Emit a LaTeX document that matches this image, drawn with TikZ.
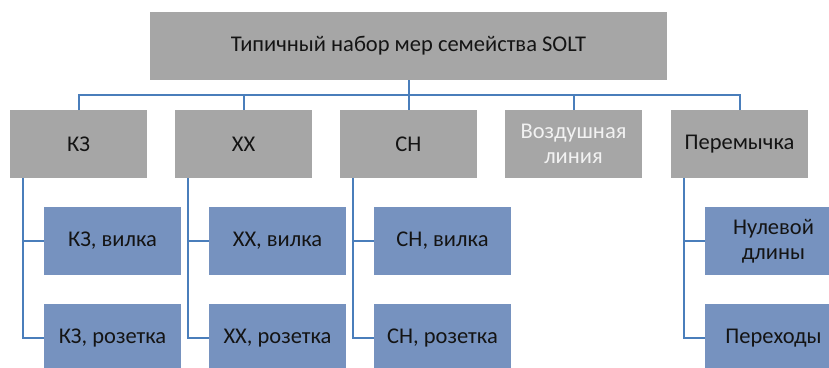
\documentclass[tikz,border=0pt]{standalone}
\usepackage{fontspec}
\setmainfont{Carlito}
\definecolor{boxgray}{HTML}{A6A6A6}
\definecolor{boxblue}{HTML}{7692BF}
\definecolor{linkblue}{HTML}{4A7EBB}
\definecolor{txtdark}{HTML}{141414}
\begin{document}
\begin{tikzpicture}[x=1pt,y=-1pt,
  every node/.style={inner sep=0pt,outer sep=0pt,align=center,
    font=\fontsize{22.5}{25}\selectfont,text=txtdark},
  topbox/.style={fill=boxgray,minimum width=517pt,minimum height=68pt},
  grbox/.style={fill=boxgray,minimum width=137pt,minimum height=68pt},
  blbox/.style={fill=boxblue,minimum width=137pt,minimum height=68pt},
  link/.style={draw=linkblue,line width=2pt}]
\useasboundingbox (0,0) rectangle (829,367);
\begin{scope}
\clip (0,0) rectangle (829,367);
\node[topbox] (top) at (408.5,46) {Типичный набор мер семейства SOLT};
\node[grbox] (kz) at (78.5,144) {КЗ};
\node[grbox] (xx) at (243.5,144) {ХХ};
\node[grbox] (ch) at (408.5,144) {СН};
\node[grbox,text=white!95!black] (vl) at (573.5,144) {Воздушная\\линия};
\node[grbox] (pm) at (739.5,144) {Перемычка};
\node[blbox] (kzv) at (112.5,241) {КЗ, вилка};
\node[blbox] (kzr) at (112.5,338) {КЗ, розетка};
\node[blbox] (xxv) at (277.5,241) {ХХ, вилка};
\node[blbox] (xxr) at (277.5,338) {ХХ, розетка};
\node[blbox] (chv) at (442.5,241) {СН, вилка};
\node[blbox] (chr) at (442.5,338) {СН, розетка};
\node[blbox] (pmn) at (773.5,241) {Нулевой\\длины};
\node[blbox] (pmp) at (773.5,338) {Переходы};
\coordinate (bus) at (0,95);
\draw[link] (top.south) -- (top.south |- bus);
\draw[link] (kz.north) |- (bus -| xx.north) -- (xx.north);
\draw[link] (bus -| xx.north) -- (bus -| ch.north) -- (ch.north);
\draw[link] (bus -| ch.north) -| (vl.north);
\draw[link] (bus -| vl.north) -| (pm.north);
\foreach \p/\a/\b in {kz/kzv/kzr, xx/xxv/xxr, ch/chv/chr, pm/pmn/pmp}{
  \draw[link] ([xshift=13pt]\p.south west) |- (\b.west);
  \draw[link] ([xshift=13pt]\p.south west) |- (\a.west);
}
\end{scope}
\end{tikzpicture}
\end{document}
